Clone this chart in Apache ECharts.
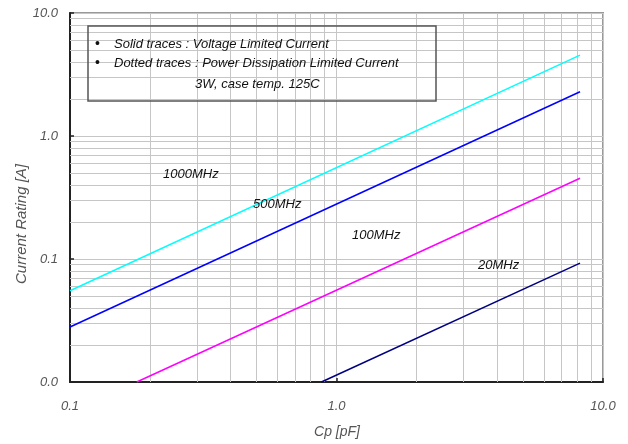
<!DOCTYPE html>
<html><head><meta charset="utf-8">
<script src="https://cdn.jsdelivr.net/npm/echarts@6/dist/echarts.min.js"></script>
<style>html,body{margin:0;padding:0;background:#fff}#c{width:628px;height:444px}</style>
</head><body><div id="c"></div>
<script>
// Data
const freqLabels = ['1000MHz', '500MHz', '100MHz', '20MHz'];
const cap1000 = [0.1, 8.2];
const cur1000 = [0.0552, 4.55];
const cap500 = [0.1, 8.2];
const cur500 = [0.028, 2.29];
const cap100 = [0.178, 8.2];
const cur100 = [0.01, 0.453];
const cap20 = [0.878, 8.2];
const cur20 = [0.01, 0.0925];
const xMinor = [0.2,0.3,0.4,0.5,0.6,0.7,0.8,0.9,2,3,4,5,6,7,8,9];
const yMinor = [0.02,0.03,0.04,0.05,0.06,0.07,0.08,0.09,0.2,0.3,0.4,0.5,0.6,0.7,0.8,0.9,2,3,4,5,6,7,8,9];
const colors = ['#00ffff', '#0000ff', '#ff00ff', '#000080'];

const pairs = (xs, ys) => xs.map((x, i) => [x, ys[i]]);
const seriesData = [pairs(cap1000, cur1000), pairs(cap500, cur500), pairs(cap100, cur100), pairs(cap20, cur20)];

const labFont = { fontFamily: 'Liberation Sans', fontStyle: 'italic', fontSize: 13, color: '#555' };
const txtFont = 'italic 13px "Liberation Sans"';

const chart = echarts.init(document.getElementById('c'), null, { renderer: 'canvas' });
const gridLine = { color: '#c6c6c6', width: 1, type: 'solid' };
chart.setOption({
  animation: false,
  grid: { left: 70, right: 25, top: 13, bottom: 62, show: true, borderColor: '#999', borderWidth: 2 },
  xAxis: {
    type: 'log', logBase: 10, min: 0.1, max: 10,
    axisLine: { show: true, lineStyle: { color: '#222', width: 2 } },
    axisTick: { show: true, inside: true, length: 4, lineStyle: { color: '#222', width: 1.5 } },
    splitLine: { show: true, lineStyle: gridLine },
    axisLabel: Object.assign({ margin: 18, formatter: v => Number(v).toFixed(1) }, labFont)
  },
  yAxis: {
    type: 'log', logBase: 10, min: 0.01, max: 10,
    axisLine: { show: true, lineStyle: { color: '#222', width: 2 } },
    axisTick: { show: true, inside: true, length: 4, lineStyle: { color: '#222', width: 1.5 } },
    splitLine: { show: true, lineStyle: gridLine },
    axisLabel: Object.assign({ margin: 12, formatter: v => Number(v).toFixed(1) }, labFont)
  },
  series: [
    {
      type: 'line', data: [], z: 1, silent: true,
      markLine: {
        silent: true, symbol: ['none', 'none'], label: { show: false }, animation: false,
        lineStyle: gridLine,
        data: xMinor.map(v => ({ xAxis: v })).concat(yMinor.map(v => ({ yAxis: v })))
      }
    }
  ].concat(seriesData.map((d, i) => ({
    name: freqLabels[i], type: 'line', data: d, z: 5, symbol: 'none',
    lineStyle: { color: colors[i], width: 1.5 }
  }))),
  graphic: [
    { type: 'rect', shape: { x: 88, y: 26, width: 348, height: 75 }, style: { fill: 'none', stroke: '#555', lineWidth: 1.5 }, z: 10 },
    { type: 'text', x: 95, y: 44, style: { text: '•', font: '14px "Liberation Sans"', fill: '#111', textVerticalAlign: 'middle' }, z: 10 },
    { type: 'text', x: 114, y: 44, style: { text: 'Solid traces : Voltage Limited Current', font: txtFont, fill: '#111', textVerticalAlign: 'middle' }, z: 10 },
    { type: 'text', x: 95, y: 63, style: { text: '•', font: '14px "Liberation Sans"', fill: '#111', textVerticalAlign: 'middle' }, z: 10 },
    { type: 'text', x: 114, y: 63, style: { text: 'Dotted traces : Power Dissipation Limited Current', font: txtFont, fill: '#111', textVerticalAlign: 'middle' }, z: 10 },
    { type: 'text', x: 195, y: 84, style: { text: '3W, case temp. 125C', font: txtFont, fill: '#111', textVerticalAlign: 'middle' }, z: 10 },
    { type: 'text', x: 163, y: 174, style: { text: freqLabels[0], font: txtFont, fill: '#111', textVerticalAlign: 'middle' }, z: 10 },
    { type: 'text', x: 253, y: 204, style: { text: freqLabels[1], font: txtFont, fill: '#111', textVerticalAlign: 'middle' }, z: 10 },
    { type: 'text', x: 352, y: 235, style: { text: freqLabels[2], font: txtFont, fill: '#111', textVerticalAlign: 'middle' }, z: 10 },
    { type: 'text', x: 478, y: 265, style: { text: freqLabels[3], font: txtFont, fill: '#111', textVerticalAlign: 'middle' }, z: 10 },
    { type: 'text', x: 337, y: 432, style: { text: 'Cp [pF]', font: 'italic 14px "Liberation Sans"', fill: '#555', textAlign: 'center', textVerticalAlign: 'middle' }, z: 10 },
    { type: 'text', x: 22, y: 224, rotation: Math.PI / 2, style: { text: 'Current Rating [A]', font: 'italic 15px "Liberation Sans"', fill: '#555', textAlign: 'center', textVerticalAlign: 'middle' }, z: 10 }
  ]
});
</script></body></html>
